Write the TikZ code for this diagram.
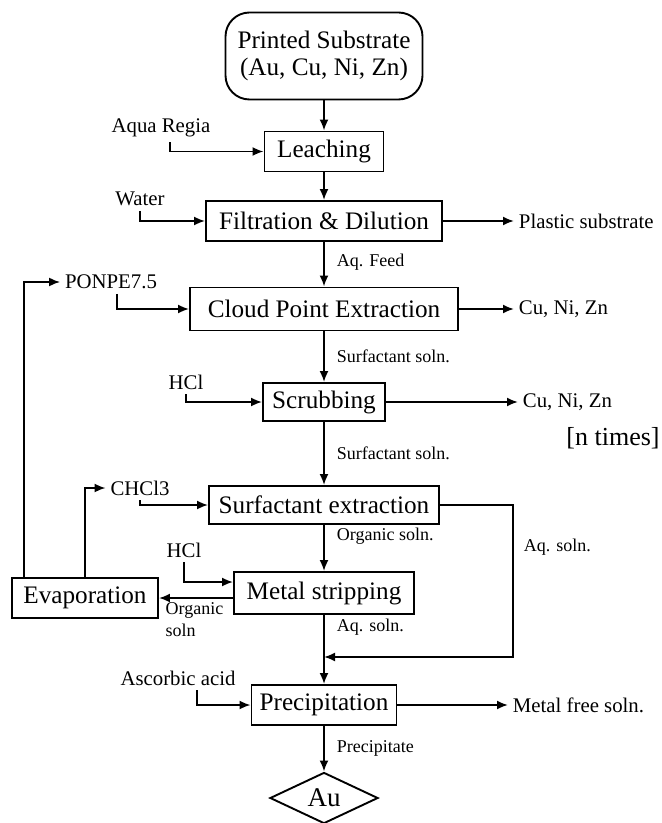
\documentclass[tikz,border=0pt]{standalone}
\usepackage{fontspec}
\setmainfont{Liberation Serif}
\usetikzlibrary{positioning,arrows.meta,shapes.geometric}
\tikzstyle{block} = [draw, rectangle, inner xsep=3pt, inner ysep=2pt,
    minimum height=20pt, font=\fontsize{12.6}{13.5}\selectfont]
\tikzstyle{source} = [block, rounded corners=12pt, align=center]
\tikzstyle{product} = [draw, diamond, inner sep=0pt, minimum width=54pt,
    minimum height=24pt, font=\fontsize{13.5}{15}\selectfont]
\tikzstyle{feed} = [inner sep=2pt, font=\fontsize{10.4}{12}\selectfont]
\tikzstyle{stream} = [inner sep=1pt, font=\fontsize{9}{11}\selectfont]
\tikzstyle{note} = [inner sep=1pt, font=\fontsize{13}{15}\selectfont]

\begin{document}
\begin{tikzpicture}[x=0.5pt, y=-0.5pt, line width=0.95pt, >={Latex[length=5.5pt,width=4.5pt]}]
	  \useasboundingbox (0,0) rectangle (661,823);
	  % process line
	  \node [source, minimum width=98.5pt, minimum height=43.5pt] (substrate) at (324,56) {Printed Substrate\\(Au, Cu, Ni, Zn)};
	  \node [block, minimum width=59.5pt] (leaching) at (324,151.5) {Leaching};
	  \node [block, minimum width=118pt] (filtration) at (324,221) {Filtration \& Dilution};
	  \node [block, minimum width=134pt, minimum height=21.5pt] (cpe) at (324,309) {Cloud Point Extraction};
	  \node [block, minimum width=61pt, minimum height=19pt] (scrubbing) at (324,402) {Scrubbing};
	  \node [block, minimum width=115pt, minimum height=19pt] (surfext) at (324,505) {Surfactant extraction};
	  \node [block, minimum width=90pt, minimum height=21pt] (stripping) at (324,593) {Metal stripping};
	  \node [block, minimum width=72.5pt] (precip) at (324,705) {Precipitation};
	  \node [product] (au) at (324,798) {Au};
	  \node [block, minimum width=73pt] (evap) at (85,598) {Evaporation};
	  % feeds
	  \node [feed] (aqua) at (161,128) {Aqua Regia};
	  \node [feed] (water) at (140,199) {Water};
	  \node [feed] (ponpe) at (111,282) {PONPE7.5};
	  \node [feed] (hcla) at (186,382) {HCl};
	  \node [feed] (chcl) at (140,488) {CHCl3};
	  \node [feed] (hclb) at (184,550) {HCl};
	  \node [feed] (ascorbic) at (178,678) {Ascorbic acid};
	  % products
	  \node [feed, anchor=west] (plastic) at (514,221) {Plastic substrate};
	  \node [feed, anchor=west] (cunizna) at (514,309) {Cu, Ni, Zn};
	  \node [feed, anchor=west] (cuniznb) at (518,402) {Cu, Ni, Zn};
	  \node [feed, anchor=west] (metalfree) at (508,705) {Metal free soln.};
	  \node [note] (ntimes) at (613,438) {[n times]};
	  \coordinate (aqturn) at (513,657);
	  \coordinate (aqjoin) at (324,657);
	  % main flow
	  \draw [->] (substrate) -- (leaching);
	  \draw [->] (leaching) -- (filtration);
	  \draw [->] (filtration) -- node [stream, right=5pt, pos=0.46] {Aq. Feed} (cpe);
	  \draw [->] (cpe) -- node [stream, right=5pt] {Surfactant soln.} (scrubbing);
	  \draw [->] (scrubbing) -- node [stream, right=5pt] {Surfactant soln.} (surfext);
	  \draw [->] (surfext) -- node [stream, right=5pt, pos=0.25] {Organic soln.} (stripping);
	  \draw [->] (stripping) -- node [stream, right=5pt, pos=0.17] {Aq. soln.} (precip);
	  \draw [->] (precip) -- node [stream, right=5pt] {Precipitate} (au);
	  \draw [->] (surfext.east) -| node [stream, right=4pt, pos=0.64] {Aq. soln.} (aqturn) -- (aqjoin);
	  % inputs
	  \draw [->] ([xshift=4.5pt]aqua.south) |- (leaching);
	  \draw [->] (water.south) |- (filtration);
	  \draw [->] ([xshift=3pt]ponpe.south) |- (cpe);
	  \draw [->] (hcla.south) |- (scrubbing);
	  \draw [->] (chcl.south) |- (surfext);
	  \draw [->] (hclb.south) |- ([yshift=5.5pt]stripping.west);
	  \draw [->] ([xshift=9.5pt]ascorbic.south) |- (precip);
	  % outputs
	  \draw [->] (filtration) -- (plastic);
	  \draw [->] (cpe) -- (cunizna);
	  \draw [->] (scrubbing) -- (cuniznb);
	  \draw [->] (precip) -- (metalfree);
	  % recycle
	  \draw [->] (stripping.west |- evap) -- node [stream, align=left, anchor=north west, pos=0.95, yshift=-1pt] {Organic\\soln} (evap);
	  \draw [->] ([xshift=6.5pt]evap.north west) |- (ponpe);
	  \draw [->] (evap.north) |- (chcl);
	\end{tikzpicture}
\end{document}
